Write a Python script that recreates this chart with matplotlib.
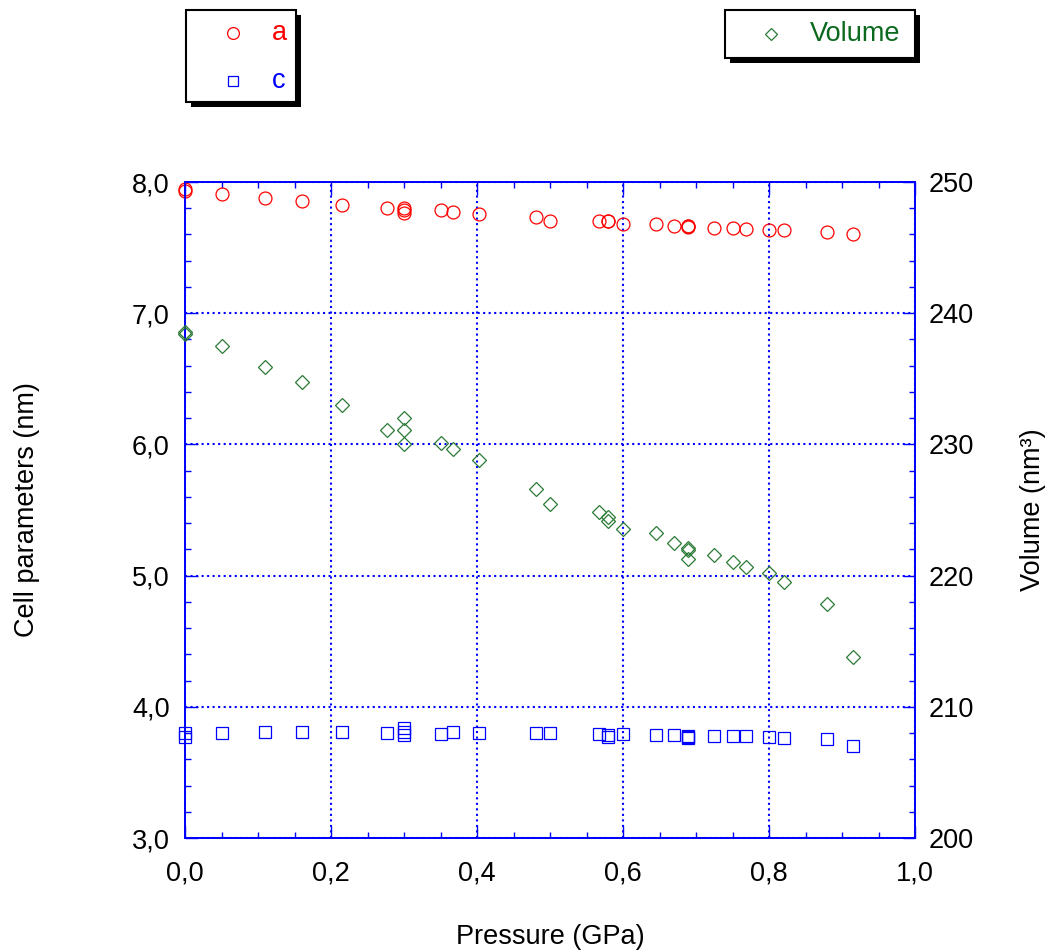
import matplotlib
matplotlib.use('Agg')
import matplotlib.pyplot as plt
from matplotlib.ticker import MultipleLocator, FuncFormatter
from matplotlib.lines import Line2D
from matplotlib.patches import Rectangle

plt.rcParams['font.family'] = ['Liberation Sans', 'DejaVu Sans']

# ---- data ----
pressure = [0.0, 0.0, 0.05, 0.11, 0.16, 0.215, 0.277, 0.30, 0.30, 0.30, 0.35, 0.367,
            0.403, 0.481, 0.50, 0.567, 0.579, 0.579, 0.60, 0.645, 0.67, 0.689, 0.689,
            0.689, 0.725, 0.75, 0.769, 0.80, 0.82, 0.88, 0.915]
a_vals = [7.95, 7.93, 7.906, 7.876, 7.853, 7.825, 7.800, 7.805, 7.785, 7.765, 7.789, 7.769,
          7.758, 7.731, 7.703, 7.703, 7.705, 7.700, 7.682, 7.678, 7.667, 7.667, 7.663,
          7.660, 7.652, 7.647, 7.642, 7.636, 7.632, 7.621, 7.601]
c_vals = [3.798, 3.772, 3.803, 3.806, 3.806, 3.806, 3.798, 3.836, 3.810, 3.785, 3.790, 3.806,
          3.798, 3.798, 3.798, 3.790, 3.782, 3.772, 3.790, 3.785, 3.785, 3.780, 3.772,
          3.765, 3.780, 3.777, 3.777, 3.772, 3.765, 3.752, 3.701]
volume = [238.6, 238.4, 237.52, 235.90, 234.73, 233.00, 231.12, 231.99, 231.12, 230.01, 230.13,
          229.65, 228.83, 226.60, 225.48, 224.82, 224.49, 224.18, 223.58, 223.25, 222.46,
          222.10, 221.95, 221.29, 221.55, 221.06, 220.63, 220.18, 219.51, 217.81, 213.77]

x_ticks = [0.0, 0.2, 0.4, 0.6, 0.8, 1.0]
left_ticks = [3.0, 4.0, 5.0, 6.0, 7.0, 8.0]
right_ticks = [200, 210, 220, 230, 240, 250]

RED = '#ff0000'
BLUE = '#0000ff'
GREEN = '#2a7a35'
GREEN_TXT = '#0b6a1e'
FS = 19.5

W, H = 1050, 950
fig = plt.figure(figsize=(W / 100, H / 100), dpi=100)
ax = fig.add_axes([185 / W, 112 / H, 730 / W, 656 / H])
ax2 = ax.twinx()

comma = FuncFormatter(lambda v, p: f"{v:.1f}".replace('.', ','))

ax.set_xlim(0, 1)
ax.set_ylim(3, 8)
ax2.set_ylim(200, 250)
ax.set_xticks(x_ticks)
ax.set_yticks(left_ticks)
ax2.set_yticks(right_ticks)
ax.xaxis.set_major_formatter(comma)
ax.yaxis.set_major_formatter(comma)
ax.xaxis.set_minor_locator(MultipleLocator(0.05))
ax.yaxis.set_minor_locator(MultipleLocator(0.2))
ax2.yaxis.set_minor_locator(MultipleLocator(2))

ax.grid(True, which='major', color=BLUE, ls=':', lw=1.5)
ax.set_axisbelow(True)

for a_ in (ax, ax2):
    for s in a_.spines.values():
        s.set_color(BLUE)
        s.set_linewidth(1.3)

ax.tick_params(axis='x', which='both', direction='in', top=True, bottom=True,
               color=BLUE, labelsize=FS, pad=16)
ax.tick_params(axis='y', which='both', direction='in', left=True, right=False,
               color=BLUE, labelsize=FS, pad=11)
ax2.tick_params(axis='y', which='both', direction='in', color=BLUE, labelsize=FS, pad=10)
for a_ in (ax, ax2):
    a_.tick_params(which='major', length=9, width=1.0)
    a_.tick_params(which='minor', length=4.5, width=1.0)

ax.plot(pressure, a_vals, ls='none', marker='o', ms=9.3, mfc='none', mec=RED, mew=0.9,
        clip_on=False, zorder=3)
ax.plot(pressure, c_vals, ls='none', marker='s', ms=8.6, mfc='none', mec=BLUE, mew=0.9,
        clip_on=False, zorder=3)
ax2.plot(pressure, volume, ls='none', marker='D', ms=6.8, mfc='none', mec=GREEN, mew=0.9,
         clip_on=False, zorder=3)

ax.set_xlabel('Pressure (GPa)', fontsize=FS)
ax.xaxis.set_label_coords(0.5, -(924 - 838) / 656)
ax.set_ylabel('Cell parameters (nm)', fontsize=FS)
ax.yaxis.set_label_coords(-(185 - 40) / 730, 0.5)
ax2.set_ylabel('Volume (nm³)', fontsize=FS)
ax2.yaxis.set_label_coords((1020 - 185) / 730, 0.5)


# ---- legends drawn as boxes with shadows ----
def fx(px):
    return px / W


def fy(py):
    return 1 - py / H


def box(l, t, r, b, off=5):
    fig.add_artist(Rectangle((fx(l + off), fy(b + off)), (r - l) / W, (b - t) / H,
                             transform=fig.transFigure, facecolor='black', edgecolor='black',
                             lw=0))
    fig.add_artist(Rectangle((fx(l), fy(b)), (r - l) / W, (b - t) / H,
                             transform=fig.transFigure, facecolor='white', edgecolor='black',
                             lw=1.5))


box(186, 10, 296, 102)
fig.add_artist(Line2D([fx(233)], [fy(33)], marker='o', ms=8.5, mfc='none', mec=RED, mew=0.9,
                      transform=fig.transFigure))
fig.text(fx(272), fy(33), 'a', color=RED, fontsize=FS, ha='left', va='center')
fig.add_artist(Line2D([fx(233)], [fy(81)], marker='s', ms=7.8, mfc='none', mec=BLUE, mew=0.9,
                      transform=fig.transFigure))
fig.text(fx(272), fy(81), 'c', color=BLUE, fontsize=FS, ha='left', va='center')

box(725, 10, 915, 58)
fig.add_artist(Line2D([fx(771)], [fy(34)], marker='D', ms=6, mfc='none', mec=GREEN, mew=0.9,
                      transform=fig.transFigure))
fig.text(fx(810), fy(34), 'Volume', color=GREEN_TXT, fontsize=FS, ha='left', va='center')

fig.savefig('out.png', dpi=100)
